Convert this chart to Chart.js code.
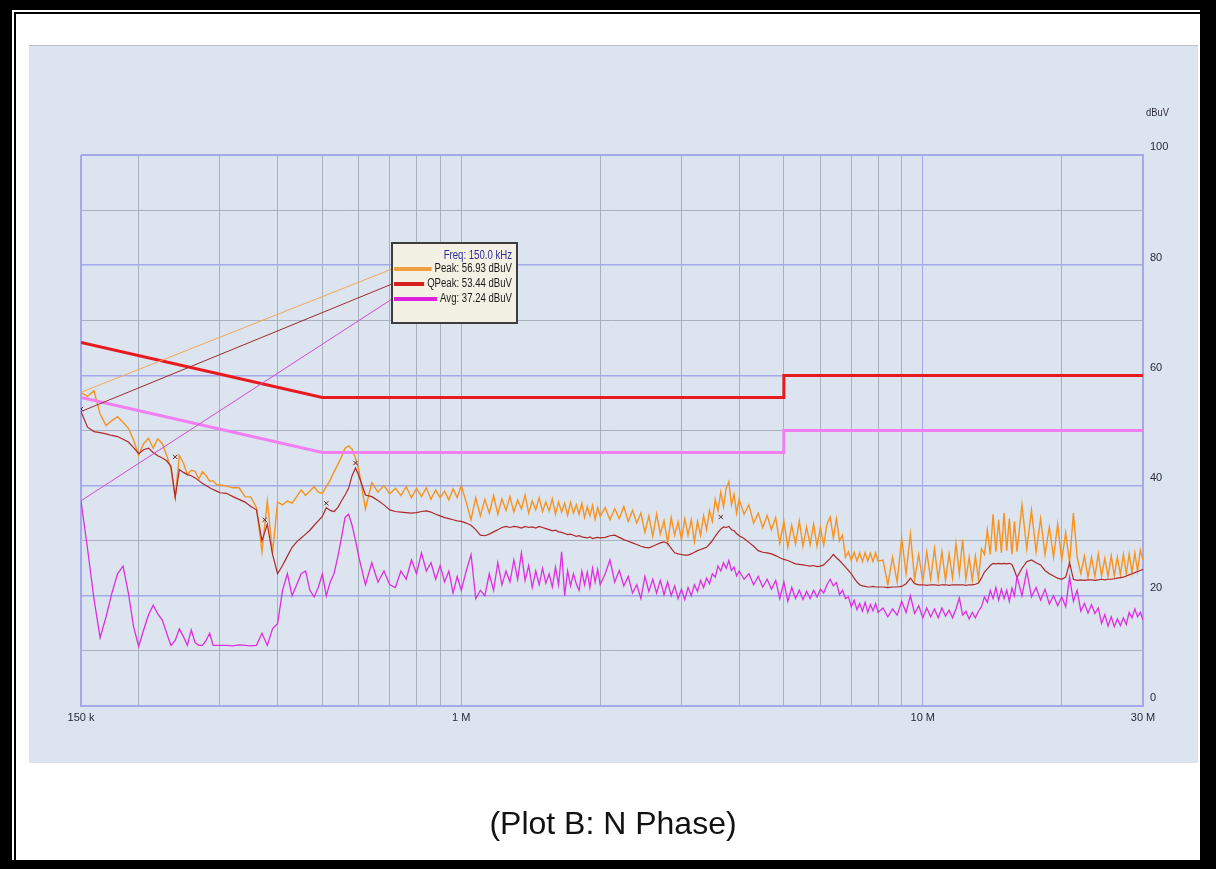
<!DOCTYPE html>
<html>
<head>
<meta charset="utf-8">
<title>Plot B: N Phase</title>
<script src="https://cdn.jsdelivr.net/npm/chart.js@4.4.1/dist/chart.umd.min.js"></script>
<style>
  html, body { margin: 0; padding: 0; background: #fff; }
  body { width: 1216px; height: 869px; position: relative; overflow: hidden; }
  #frame { position: absolute; left: 0; top: 0; width: 1216px; height: 869px; box-sizing: border-box;
           border-style: solid; border-color: #000; border-width: 10px 16px 9px 12px; }
  #frameLine { position: absolute; left: 14px; top: 12px; width: 1186px; height: 848px; box-sizing: border-box;
               border-left: 2px solid #000; border-top: 2px solid #000; }
  #panel { position: absolute; left: 29px; top: 45px; width: 1169px; height: 718px; box-sizing: border-box;
           background: #dbe4ef; border-top: 1px solid #b9c2cc; }
  #caption { position: absolute; left: 0; top: 807px; width: 1226px; text-align: center;
             font: 32px/32px "Liberation Sans", Arial, sans-serif; color: #111; }
  #chart { position: absolute; left: 0; top: 0; }
</style>
</head>
<body>
<div id="panel"></div>
<canvas id="chart" width="1216" height="869"></canvas>
<div id="frame"></div>
<div id="frameLine"></div>
<div id="caption">(Plot B: N Phase)</div>
<script>
// sweep frequencies (MHz), shared by the three measured traces
const freqMHz = [
  0.150,0.155,0.160,0.165,0.170,0.175,0.180,0.185,0.190,0.195,0.200,0.205,0.210,0.215,0.220,0.225,
  0.230,0.235,0.240,0.245,0.250,0.255,0.260,0.265,0.270,0.275,0.280,0.285,0.290,0.295,0.300,
  0.31,0.32,0.33,0.34,0.35,0.36,0.37,0.38,0.39,0.40,0.41,0.42,0.43,0.44,0.45,
  0.46,0.47,0.48,0.49,0.50,0.51,0.52,0.53,0.54,0.55,0.56,0.57,0.58,0.59,0.60,
  0.62,0.64,0.66,0.68,0.70,0.72,0.74,0.76,0.78,0.80,0.82,0.84,0.86,0.88,0.90,0.92,0.94,0.96,0.98,1.00,
  1.025,1.05,1.075,1.1,1.125,1.15,1.175,1.2,1.225,1.25,1.275,1.3,1.325,1.35,1.375,1.4,1.425,1.45,1.475,1.5,
  1.525,1.55,1.575,1.6,1.625,1.65,1.675,1.7,1.725,1.75,1.775,1.8,1.825,1.85,1.875,1.9,1.925,1.95,1.975,2.0,
  2.05,2.1,2.15,2.2,2.25,2.3,2.35,2.4,2.45,2.5,2.55,2.6,2.65,2.7,2.75,2.8,2.85,2.9,2.95,3.0,
  3.05,3.1,3.15,3.2,3.25,3.3,3.35,3.4,3.45,3.5,3.55,3.6,3.65,3.7,3.75,3.8,3.85,3.9,3.95,4.0,
  4.1,4.2,4.3,4.4,4.5,4.6,4.7,4.8,4.9,5.0,5.1,5.2,5.3,5.4,5.5,5.6,5.7,5.8,5.9,6.0,
  6.1,6.2,6.3,6.4,6.5,6.6,6.7,6.8,6.9,7.0,7.1,7.2,7.3,7.4,7.5,7.6,7.7,7.8,7.9,8.0,
  8.2,8.4,8.6,8.8,9.0,9.2,9.4,9.6,9.8,10.0,10.2,10.4,10.6,10.8,11.0,11.2,11.4,11.6,11.8,12.0,
  12.2,12.4,12.6,12.8,13.0,13.2,13.4,13.6,13.8,14.0,14.2,14.4,14.6,14.8,15.0,15.2,15.4,15.6,15.8,16.0,
  16.4,16.8,17.2,17.6,18.0,18.4,18.8,19.2,19.6,20.0,20.4,20.8,21.2,21.6,22.0,22.4,22.8,23.2,23.6,24.0,
  24.4,24.8,25.2,25.6,26.0,26.4,26.8,27.2,27.6,28.0,28.4,28.8,29.2,29.6,30.0
];

const peakLevel = [
  56.9,56.2,57.2,53.0,50.9,51.8,52.5,51.5,50.4,48.3,45.5,47.6,48.6,46.8,48.5,47.6,
  45.5,43.0,37.8,45.5,44.1,42.0,42.8,42.6,41.2,42.5,41.8,40.8,40.9,40.2,40.1,
  39.9,39.6,39.6,38.0,37.9,36.0,28.0,37.2,27.8,37.0,36.5,37.2,36.8,38.0,39.2,
  38.2,39.0,39.8,38.8,38.6,39.8,41.0,42.5,43.8,45.2,46.8,47.2,46.6,45.0,42.8,
  35.8,40.5,38.8,40.0,38.5,39.5,38.2,39.8,37.8,39.5,38.0,39.6,37.5,39.2,37.8,39.0,37.4,39.4,37.8,40.0,
  37.0,33.8,37.8,34.5,37.5,35.0,38.2,34.8,37.6,35.5,38.0,35.2,37.4,35.8,38.3,35.0,37.2,35.6,37.8,35.3,
  37.0,35.4,37.6,34.8,37.0,35.2,36.8,34.6,37.0,35.0,36.5,34.8,36.8,34.2,36.2,34.5,36.4,33.9,36.0,34.4,
  36.0,33.8,35.8,34.0,36.2,33.5,35.5,33.2,35.0,31.5,34.5,30.8,34.8,31.2,33.6,29.6,34.2,31.0,33.4,30.2,
  34.0,31.0,33.8,29.8,33.5,31.0,34.5,32.0,35.5,33.5,37.5,35.5,38.8,36.2,39.5,40.7,36.5,38.4,35.0,37.5,
  34.8,36.5,33.2,35.0,32.4,34.6,32.0,34.2,29.5,33.5,28.8,32.8,29.4,33.6,29.0,32.5,29.3,33.0,29.0,32.4,
  29.2,33.0,34.3,30.5,34.0,30.0,31.0,27.0,28.0,26.4,27.9,26.3,27.8,26.2,27.8,26.3,27.7,26.2,27.8,26.3,
  26.5,22.0,27.0,22.5,30.5,24.0,31.2,23.0,27.5,22.5,28.0,23.0,28.6,23.0,28.0,22.8,27.6,23.2,29.5,24.0,
  30.2,23.0,27.0,22.8,27.2,23.0,28.5,27.5,32.0,27.5,34.8,28.0,33.8,27.8,35.0,28.2,34.0,27.5,33.5,28.0,
  36.5,28.5,35.5,28.0,34.0,27.5,32.5,27.0,33.0,26.5,31.5,26.0,35.0,27.0,24.0,27.2,23.4,27.0,23.5,27.6,
  23.6,26.8,23.5,27.3,23.6,27.0,23.8,27.5,24.0,27.6,24.2,27.8,24.5,28.3,26.5
];

const qpeakLevel = [
  53.4,50.6,49.8,49.6,49.4,49.1,48.9,48.4,47.9,46.9,45.8,46.5,46.8,46.0,45.4,45.0,
  44.5,43.5,37.9,42.9,42.4,42.0,41.8,41.4,40.9,40.4,40.0,39.6,39.3,39.0,38.7,
  38.6,38.0,37.5,37.0,36.2,35.6,30.0,33.0,27.5,24.0,25.5,27.2,28.8,29.8,30.5,
  31.2,31.9,32.8,33.6,34.4,36.0,35.5,35.3,36.0,37.2,38.3,39.5,41.8,43.2,41.8,
  38.3,38.0,37.3,36.5,35.6,35.3,35.2,35.1,35.0,35.1,35.3,35.4,35.2,34.8,34.5,34.2,34.0,33.8,33.6,33.5,
  33.2,32.8,32.0,31.0,30.9,31.2,31.6,32.0,32.4,32.6,32.4,32.6,32.5,32.3,32.6,32.4,32.5,32.3,32.6,32.4,
  32.2,32.0,31.8,31.9,31.6,31.5,31.3,31.1,31.2,31.0,30.8,30.9,30.7,30.6,30.5,30.7,30.4,30.5,30.6,30.5,
  30.6,30.9,31.0,30.6,30.2,29.9,29.6,29.3,29.0,28.8,28.7,29.0,29.3,29.6,29.8,29.5,28.6,27.8,27.6,27.5,
  27.4,27.4,27.6,27.9,28.2,28.4,28.6,28.8,29.4,30.0,30.8,31.5,32.1,32.5,32.4,32.6,32.0,31.8,31.3,30.9,
  30.4,29.7,29.0,28.2,27.9,27.8,27.6,27.3,26.9,26.6,26.4,26.1,25.8,25.7,25.6,25.5,25.4,25.5,25.3,25.4,
  25.6,26.2,26.8,27.5,26.9,26.4,25.8,25.2,24.6,24.0,23.2,22.5,22.0,21.8,21.7,21.6,21.6,21.7,21.6,21.6,
  21.6,21.5,21.6,21.6,21.7,22.2,23.2,22.2,22.0,22.0,21.9,22.0,22.0,21.9,22.0,22.0,21.9,22.0,22.0,22.0,
  22.0,21.9,22.0,22.0,22.1,22.3,23.2,24.3,24.9,25.5,25.9,25.8,25.9,25.8,25.9,25.8,25.9,25.7,24.6,23.3,
  25.0,26.2,26.5,26.0,25.6,24.6,24.0,23.6,23.2,23.0,23.4,26.0,23.0,22.8,22.9,22.8,22.9,22.9,22.8,22.9,
  23.0,22.9,23.0,23.0,23.1,23.2,23.3,23.4,23.6,23.8,24.0,24.2,24.4,24.6,24.8
];

const avgLevel = [
  37.2,28.5,19.5,12.4,16.2,20.5,24.0,25.4,20.5,14.4,10.8,13.8,16.5,18.3,16.7,15.6,
  13.2,11.0,11.9,14.0,12.6,11.0,13.8,11.5,11.0,11.0,11.9,13.2,11.0,11.0,11.0,
  11.0,10.9,11.1,11.0,10.9,11.0,13.2,11.0,14.0,15.0,21.0,24.0,20.0,22.0,24.0,
  24.5,21.0,19.8,21.5,24.0,20.0,22.5,24.0,27.0,30.5,34.2,34.8,32.8,30.0,27.0,
  22.0,26.0,22.5,24.5,22.0,21.5,24.5,23.0,26.5,24.0,27.8,24.5,26.0,23.0,25.5,22.5,24.5,20.5,23.5,21.0,
  24.5,27.5,19.5,21.0,20.0,24.0,21.0,26.0,22.0,24.5,22.5,26.5,23.0,27.8,22.8,25.5,21.5,24.5,22.0,25.0,
  22.3,24.0,21.6,25.2,22.0,28.0,20.0,24.5,21.8,24.0,22.2,21.0,24.5,22.0,24.3,21.5,25.0,22.5,24.8,22.0,
  24.0,26.5,22.5,24.6,21.8,23.5,20.5,22.0,19.5,23.5,20.8,23.0,20.5,22.8,20.2,22.5,20.0,21.8,19.5,21.2,
  19.3,21.5,20.0,22.0,20.8,22.8,21.5,23.2,22.2,24.0,23.4,25.4,24.5,26.0,25.0,26.4,24.6,25.2,23.6,24.5,
  23.0,24.0,22.0,23.5,21.6,23.0,21.2,22.8,19.5,22.5,19.0,21.5,19.5,21.0,19.3,20.8,19.5,21.0,19.8,21.2,
  20.5,22.0,23.0,21.8,22.4,20.2,21.0,19.5,19.8,18.0,19.2,17.5,18.6,17.2,18.8,17.0,18.4,17.3,18.6,17.0,
  17.8,16.2,17.6,16.5,19.0,17.0,20.0,16.8,18.2,16.0,17.8,16.2,17.6,16.0,17.8,16.3,17.4,16.0,17.6,19.6,
  16.5,17.2,15.8,17.0,16.0,17.2,18.0,19.8,18.8,21.0,19.5,21.5,19.2,21.2,19.5,21.0,19.0,21.4,20.0,23.5,
  20.0,24.5,19.8,21.5,19.2,21.2,18.5,20.0,18.2,19.8,18.0,23.4,19.0,21.0,17.2,18.6,16.9,18.4,16.8,17.8,
  15.0,16.6,14.5,16.2,14.4,15.8,14.6,16.0,14.8,17.0,16.0,17.6,16.2,17.0,15.6
];

// EN 55022 class B limit lines
const limitFreq = [0.15, 0.5, 5, 5, 30];
const qpLimit = [66, 56, 56, 60, 60];
const avgLimit = [56, 46, 46, 50, 50];

// final measurement marks
const markFreq = [0.15, 0.24, 0.375, 0.51, 0.59, 3.65];
const markLevel = [53.9, 45.2, 33.8, 36.8, 44.1, 34.3];

// readout at the cursor
const readoutFreqKHz = 150.0;
const readoutNames = ["Peak", "QPeak", "Avg"];
const readoutLevels = [56.93, 53.44, 37.24];

const xTickValues = [0.15, 0.2, 0.3, 0.4, 0.5, 0.6, 0.7, 0.8, 0.9, 1, 2, 3, 4, 5, 6, 7, 8, 9, 10, 20, 30];
const xTickLabels = ["150 k", "", "", "", "", "", "", "", "", "1 M", "", "", "", "", "", "", "", "", "10 M", "", "30 M"];
const yTickValues = [0, 5, 10, 15, 20, 25, 30, 35, 40, 45, 50, 55, 60, 65, 70, 75, 80, 85, 90, 95, 100];
const yTickLabels = ["0", "", "", "", "20", "", "", "", "40", "", "", "", "60", "", "", "", "80", "", "", "", "100"];
const yUnit = "dBuV";

const labelFont = "'Liberation Sans', Arial, sans-serif";
const gridBlue = "#a3a9ea";
const gridGrey = "#a9b1bc";
const traceColors = ["#f7931e", "#b0282a", "#e12de1"];
const swatchColors = ["#f0a040", "#d62020", "#e020e0"];
const linkColors = ["#f0a858", "#9c2c2c", "#d24ad2"];

function toPoints(xs, ys) {
    return xs.map((x, i) => ({ x: x, y: ys[i] }));
}

// narrow text: squeeze horizontally, right aligned at x
function narrowText(ctx, text, x, y, squeeze) {
    ctx.save();
    ctx.translate(x, y);
    ctx.scale(squeeze, 1);
    ctx.fillText(text, 0, 0);
    ctx.restore();
    return ctx.measureText(text).width * squeeze;
}

const readoutBox = {
    id: "readoutBox",
    afterDraw(chart) {
        const { ctx, scales } = chart;
        const box = { x: 392, y: 243, w: 125, h: 80 };
        const rowY = [269, 284, 299];
        const textRight = box.x + box.w - 5;
        const startX = scales.x.getPixelForValue(readoutFreqKHz / 1000);

        ctx.save();
        // lines from the cursor point to the readout box
        ctx.lineWidth = 1;
        readoutLevels.forEach((lvl, i) => {
            ctx.strokeStyle = linkColors[i];
            ctx.beginPath();
            ctx.moveTo(startX, scales.y.getPixelForValue(lvl));
            ctx.lineTo(box.x, rowY[i]);
            ctx.stroke();
        });

        ctx.fillStyle = "#f3f0e4";
        ctx.fillRect(box.x, box.y, box.w, box.h);
        ctx.strokeStyle = "#3d3d3d";
        ctx.lineWidth = 2;
        ctx.strokeRect(box.x, box.y, box.w, box.h);

        ctx.font = "12px " + labelFont;
        ctx.textAlign = "right";
        ctx.textBaseline = "middle";
        ctx.fillStyle = "#2c2c9c";
        narrowText(ctx, "Freq: " + readoutFreqKHz.toFixed(1) + " kHz", textRight, 256, 0.8);

        readoutNames.forEach((name, i) => {
            const label = name + ": " + readoutLevels[i].toFixed(2) + " dBuV";
            ctx.fillStyle = "#1a1a1a";
            const textW = narrowText(ctx, label, textRight, rowY[i], 0.8);
            ctx.strokeStyle = swatchColors[i];
            ctx.lineWidth = 4;
            ctx.beginPath();
            ctx.moveTo(box.x + 2, rowY[i]);
            ctx.lineTo(textRight - textW - 3, rowY[i]);
            ctx.stroke();
        });

        ctx.textAlign = "left";
        ctx.fillStyle = "#2a2a3a";
        ctx.font = "11px " + labelFont;
        narrowText(ctx, yUnit, chart.chartArea.right + 3, 113, 0.85);
        ctx.restore();
    }
};

const ctx = document.getElementById("chart").getContext("2d");

new Chart(ctx, {
    type: "line",
    data: {
        datasets: [
            {
                label: "QP limit",
                data: toPoints(limitFreq, qpLimit),
                borderColor: "#e8191f",
                borderWidth: 3,
                order: 1
            },
            {
                label: "Avg limit",
                data: toPoints(limitFreq, avgLimit),
                borderColor: "#f27ef2",
                borderWidth: 3,
                order: 2
            },
            {
                label: "Avg",
                data: toPoints(freqMHz, avgLevel),
                borderColor: traceColors[2],
                borderWidth: 1.3,
                order: 3
            },
            {
                label: "QPeak",
                data: toPoints(freqMHz, qpeakLevel),
                borderColor: traceColors[1],
                borderWidth: 1.2,
                order: 4
            },
            {
                label: "Peak",
                data: toPoints(freqMHz, peakLevel),
                borderColor: traceColors[0],
                borderWidth: 1.4,
                order: 5
            },
            {
                label: "Marks",
                data: toPoints(markFreq, markLevel),
                showLine: false,
                pointStyle: "crossRot",
                pointRadius: 3,
                borderColor: "#6a1e1e",
                borderWidth: 1,
                order: 0
            }
        ]
    },
    options: {
        responsive: false,
        animation: false,
        events: [],
        layout: { padding: { left: 81, top: 155, right: 0, bottom: 0 } },
        elements: {
            point: { radius: 0 },
            line: { tension: 0, fill: false }
        },
        plugins: {
            legend: { display: false },
            tooltip: { enabled: false }
        },
        scales: {
            x: {
                type: "logarithmic",
                min: 0.15,
                max: 30,
                afterBuildTicks: scale => {
                    scale.ticks = xTickValues.map(v => ({ value: v }));
                },
                afterFit: scale => { scale.height = 163; },
                grid: {
                    drawTicks: false,
                    color: c => [0.15, 1, 10, 30].includes(c.tick?.value) ? gridBlue : gridGrey,
                    lineWidth: c => [0.15, 30].includes(c.tick?.value) ? 2 : 1
                },
                border: { color: gridBlue, width: 2 },
                ticks: {
                    autoSkip: false,
                    maxRotation: 0,
                    padding: 5,
                    color: "#2a2a3a",
                    font: { family: labelFont, size: 11 },
                    callback: (v, i) => xTickLabels[i]
                }
            },
            y: {
                position: "right",
                min: 0,
                max: 100,
                afterBuildTicks: scale => {
                    scale.ticks = yTickValues.map(v => ({ value: v }));
                },
                afterFit: scale => { scale.width = 73; },
                grid: {
                    drawTicks: false,
                    color: c => (c.tick && c.tick.value % 20 === 0) ? gridBlue : gridGrey,
                    lineWidth: c => (c.tick && c.tick.value === 100) ? 2 : (c.tick && c.tick.value % 20 === 0 ? 1.5 : 1)
                },
                border: { color: gridBlue, width: 2 },
                ticks: {
                    padding: 7,
                    color: "#2a2a3a",
                    font: { family: labelFont, size: 11, lineHeight: 1.4 },
                    callback: (v, i) => yTickLabels[i] ? [yTickLabels[i], ""] : ""
                }
            }
        }
    },
    plugins: [readoutBox]
});
</script>
</body>
</html>
